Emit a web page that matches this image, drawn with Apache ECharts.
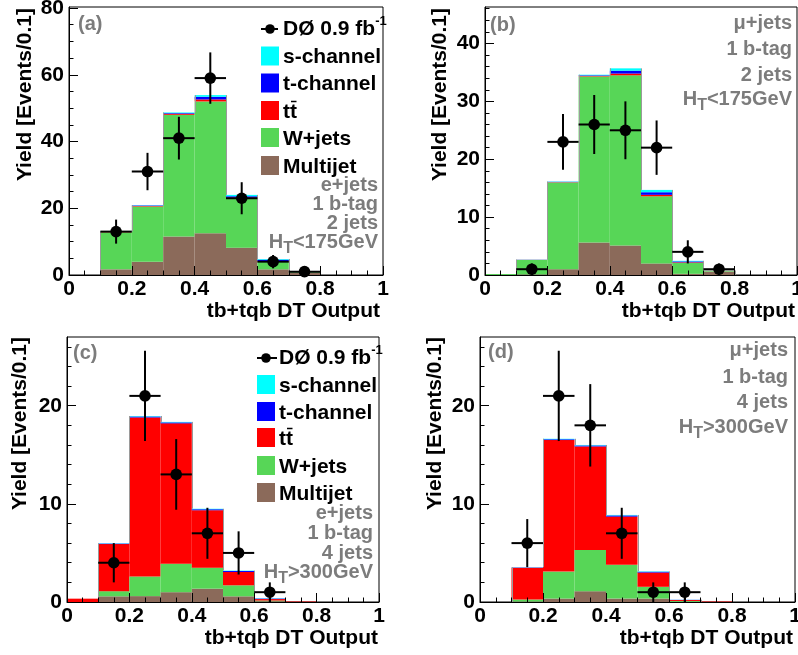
<!DOCTYPE html>
<html><head><meta charset="utf-8">
<script src="https://cdn.jsdelivr.net/npm/echarts@6/dist/echarts.min.js"></script>
<style>html,body{margin:0;padding:0;background:#fff}#c{width:798px;height:655px}</style>
</head><body><div id="c"></div>
<script>
// ---------- data ----------
const binLo = [0, 0.1, 0.2, 0.3, 0.4, 0.5, 0.6, 0.7, 0.8, 0.9];
const binHi = [0.1, 0.2, 0.3, 0.4, 0.5, 0.6, 0.7, 0.8, 0.9, 1.0];
const pointX = [0.15, 0.25, 0.35, 0.45, 0.55, 0.65, 0.75];
const xTicks = [0, 0.2, 0.4, 0.6, 0.8, 1];

// (a) e+jets, 2 jets, HT<175
const multijetA = [0, 1.7, 4.0, 11.5, 12.5, 8.2, 1.7, 0.7, 0, 0];
const wjetsA    = [0, 11.1, 16.5, 36.5, 39.5, 14.6, 2.3, 0.3, 0, 0];
const ttbarA    = [0, 0.1, 0.2, 0.3, 0.6, 0.4, 0.2, 0.05, 0, 0];
const tchanA    = [0, 0.1, 0.1, 0.2, 0.8, 0.4, 0.4, 0.05, 0, 0];
const schanA    = [0, 0.05, 0.1, 0.2, 0.5, 0.4, 0.2, 0, 0, 0];
const dataA = [13, 31, 41, 59, 23, 4, 1];
const errA  = [3.6, 5.6, 6.4, 7.7, 4.8, 2.0, 1.0];
const yTicksA = [0, 20, 40, 60, 80];
const yMinorA = [5, 10, 15, 25, 30, 35, 45, 50, 55, 65, 70, 75];

// (b) mu+jets, 2 jets, HT<175
const multijetB = [0, 0.1, 1.0, 5.6, 5.1, 2.0, 0.2, 0.6, 0, 0];
const wjetsB    = [0.15, 2.5, 15.0, 28.7, 29.4, 11.6, 1.9, 0.15, 0, 0];
const ttbarB    = [0, 0.02, 0.05, 0.1, 0.3, 0.25, 0.1, 0.02, 0, 0];
const tchanB    = [0, 0.02, 0.05, 0.1, 0.5, 0.45, 0.15, 0.02, 0, 0];
const schanB    = [0, 0.02, 0.05, 0.1, 0.4, 0.4, 0.1, 0, 0, 0];
const dataB = [1, 23, 26, 25, 22, 4, 1];
const errB  = [1.0, 4.8, 5.1, 5.0, 4.7, 2.0, 1.0];
const yTicksB = [0, 10, 20, 30, 40];
const yMinorB = [2, 4, 6, 8, 12, 14, 16, 18, 22, 24, 26, 28, 32, 34, 36, 38, 42, 44, 46];

// (c) e+jets, 4 jets, HT>300
const multijetC = [0, 0.58, 0.6, 1.0, 1.36, 0.58, 0.08, 0, 0, 0];
const wjetsC    = [0, 0.52, 2.0, 2.9, 2.14, 1.12, 0.07, 0, 0, 0];
const ttbarC    = [0.34, 4.8, 16.2, 14.3, 5.85, 1.36, 0.15, 0.05, 0, 0];
const tchanC    = [0, 0.05, 0.1, 0.1, 0.1, 0.1, 0.05, 0, 0, 0];
const schanC    = [0, 0.03, 0.05, 0.05, 0.05, 0.04, 0.03, 0, 0, 0];
const dataC = [4, 21, 13, 7, 5, 1];
const errC  = [2.0, 4.6, 3.6, 2.6, 2.2, 1.0];
const yTicksC = [0, 10, 20];
const yMinorC = [2, 4, 6, 8, 12, 14, 16, 18, 22, 24, 26];

// (d) mu+jets, 4 jets, HT>300
const multijetD = [0, 0.05, 0.35, 1.1, 0.35, 0.35, 0.02, 0, 0, 0];
const wjetsD    = [0, 0.2, 2.75, 4.2, 3.45, 1.2, 0.08, 0, 0, 0];
const ttbarD    = [0, 3.25, 13.4, 10.55, 4.9, 1.45, 0.1, 0.05, 0, 0];
const tchanD    = [0, 0.03, 0.08, 0.1, 0.12, 0.08, 0.02, 0, 0, 0];
const schanD    = [0, 0.02, 0.05, 0.05, 0.05, 0.04, 0.01, 0, 0, 0];
const dataD = [6, 21, 18, 7, 1, 1];
const errD  = [2.45, 4.6, 4.2, 2.6, 1.0, 1.0];
const yTicksD = [0, 10, 20];
const yMinorD = [2, 4, 6, 8, 12, 14, 16, 18, 22, 24, 26];

// ---------- style ----------
const FONT = "'Liberation Sans', Arial, Helvetica, sans-serif";
const C_BROWN = '#8b6a5a', C_GREEN = '#57d657', C_RED = '#ff0000', C_BLUE = '#0000ff', C_CYAN = '#00ffff';
const LAYER_COLORS = [C_BROWN, C_GREEN, C_RED, C_BLUE, C_CYAN];
const GRAY = '#7c7c7c';
const FS = 20;     // gray annotation text
const FSB = 21;    // axis labels, names, legend

const panels = [
  {grid: {left: 69, top: 7, width: 314, height: 268}, ymax: 80.3, yTicks: yTicksA, yMinor: yMinorA,
   comps: [multijetA, wjetsA, ttbarA, tchanA, schanA], data: dataA, err: errA},
  {grid: {left: 485, top: 7, width: 312, height: 268}, ymax: 46.3, yTicks: yTicksB, yMinor: yMinorB,
   comps: [multijetB, wjetsB, ttbarB, tchanB, schanB], data: dataB, err: errB},
  {grid: {left: 67, top: 337, width: 312, height: 265}, ymax: 27.0, yTicks: yTicksC, yMinor: yMinorC,
   comps: [multijetC, wjetsC, ttbarC, tchanC, schanC], data: dataC, err: errC},
  {grid: {left: 480, top: 337, width: 315, height: 265}, ymax: 27.0, yTicks: yTicksD, yMinor: yMinorD,
   comps: [multijetD, wjetsD, ttbarD, tchanD, schanD], data: dataD, err: errD}
];

function renderHist(params, api) {
  const lo = api.value(0), hi = api.value(1);
  const children = [];
  let base = 0;
  for (let i = 0; i < 5; i++) {
    const v = api.value(2 + i);
    if (!(v > 0)) continue;
    const p0 = api.coord([lo, base + v]);
    const p1 = api.coord([hi, base]);
    children.push({type: 'rect', shape: {x: p0[0], y: p0[1], width: p1[0] - p0[0], height: p1[1] - p0[1]},
      style: {fill: LAYER_COLORS[i]}});
    base += v;
  }
  const prev = api.value(7);
  if (Math.abs(prev - base) > 1e-9) {
    const a = api.coord([lo, Math.min(prev, base)]);
    const b = api.coord([lo, Math.max(prev, base)]);
    const x = Math.round(a[0]) + 0.5;
    children.push({type: 'line', shape: {x1: x, y1: a[1], x2: x, y2: b[1]}, style: {stroke: '#9a9a9a', lineWidth: 1}});
  }
  return {type: 'group', children};
}

function renderPoint(params, api) {
  const x = api.value(0), y = api.value(1), e = api.value(2);
  const c = api.coord([x, y]);
  const l = api.coord([x - 0.05, y]), r = api.coord([x + 0.05, y]);
  const t = api.coord([x, y + e]), b = api.coord([x, Math.max(0, y - e)]);
  return {type: 'group', children: [
    {type: 'line', shape: {x1: l[0], y1: c[1], x2: r[0], y2: c[1]}, style: {stroke: '#000', lineWidth: 2}},
    {type: 'line', shape: {x1: c[0], y1: t[1], x2: c[0], y2: b[1]}, style: {stroke: '#000', lineWidth: 2}},
    {type: 'circle', shape: {cx: c[0], cy: c[1], r: 5.8}, style: {fill: '#000'}}
  ]};
}

const grids = [], xAxes = [], yAxes = [], series = [];
const labelStyle = {color: '#000', fontSize: FSB, fontWeight: 'bold', fontFamily: FONT};
panels.forEach((p, i) => {
  grids.push(Object.assign({show: true, borderColor: '#000', borderWidth: 1, containLabel: false, outerBoundsMode: 'none'}, p.grid));
  xAxes.push({gridIndex: i, type: 'value', min: 0, max: 1, interval: 0.2, z: 5,
    axisLine: {show: true, onZero: false, lineStyle: {color: '#000', width: 1}},
    axisTick: {show: true, inside: true, length: 9, lineStyle: {color: '#000'}},
    minorTick: {show: true, splitNumber: 4, length: 4.5, lineStyle: {color: '#000'}},
    axisLabel: Object.assign({margin: 4, customValues: xTicks}, labelStyle),
    splitLine: {show: false}});
  yAxes.push({gridIndex: i, type: 'value', min: 0, max: p.ymax, position: 'left', z: 5,
    axisLine: {show: true, onZero: false, lineStyle: {color: '#000', width: 1}},
    axisTick: {show: true, inside: true, length: 9, customValues: p.yTicks, lineStyle: {color: '#000'}},
    axisLabel: Object.assign({margin: 5, customValues: p.yTicks}, labelStyle),
    splitLine: {show: false}});
  yAxes.push({gridIndex: i, type: 'value', min: 0, max: p.ymax, position: 'left', z: 5,
    axisLine: {show: false},
    axisTick: {show: true, inside: true, length: 4.5, customValues: p.yMinor, lineStyle: {color: '#000'}},
    axisLabel: {show: false}, splitLine: {show: false}});
  const totals = binLo.map((_, k) => p.comps.reduce((s, c) => s + c[k], 0));
  series.push({type: 'custom', name: 'hist' + i, xAxisIndex: i, yAxisIndex: 2 * i, z: 2, silent: true,
    renderItem: renderHist, encode: {x: [0, 1], y: [2]},
    data: binLo.map((lo, k) => [lo, binHi[k], p.comps[0][k], p.comps[1][k], p.comps[2][k], p.comps[3][k], p.comps[4][k], k > 0 ? totals[k - 1] : 0])});
  series.push({type: 'custom', name: 'data' + i, xAxisIndex: i, yAxisIndex: 2 * i, z: 4, silent: true,
    renderItem: renderPoint, encode: {x: 0, y: 1},
    data: p.data.map((v, k) => [pointX[k], v, p.err[k]])});
});

// ---------- texts ----------
const G = [];
function txt(x, y, text, o) {
  o = o || {};
  G.push({type: 'text', x, y, rotation: o.rot || 0, z: 100, silent: true,
    style: Object.assign({text, fill: o.fill || '#000', fontSize: o.size || FS, fontWeight: 'bold', fontFamily: FONT,
      align: o.align || 'left', verticalAlign: o.va || 'middle'}, o.extra || {})});
}
function yName(x, yTop) { txt(x, yTop, 'Yield [Events/0.1]', {rot: Math.PI / 2, align: 'right', size: FSB}); }
function xName(xRight, y) { txt(xRight, y, 'tb+tqb DT Output', {align: 'right', size: FSB}); }
function htLine(xRight, yc, str) {
  txt(xRight, yc - 10, '{m|H}{s|T}{m|' + str + '}', {fill: GRAY, align: 'right', va: 'top', extra: {rich: {
    m: {fontSize: FS, lineHeight: 20, verticalAlign: 'top', fill: GRAY, fontWeight: 'bold', fontFamily: FONT},
    s: {fontSize: 16, lineHeight: 16, padding: [9, 0, 0, 0], verticalAlign: 'top', fill: GRAY, fontWeight: 'bold', fontFamily: FONT}}}});
}
function legend(boxX, textX, dataY, rowsY, lineX0, lineX1, dotX) {
  G.push({type: 'line', z: 100, silent: true, shape: {x1: lineX0, y1: dataY, x2: lineX1, y2: dataY}, style: {stroke: '#000', lineWidth: 2}});
  G.push({type: 'circle', z: 100, silent: true, shape: {cx: dotX, cy: dataY, r: 4.8}, style: {fill: '#000'}});
  txt(textX, dataY - 14, '{m|D\u00d8 0.9 fb}{p|-1}', {va: 'top', extra: {rich: {
    m: {fontSize: FSB, lineHeight: 21, padding: [4, 0, 0, 0], verticalAlign: 'top', fontWeight: 'bold', fontFamily: FONT, fill: '#000'},
    p: {fontSize: 13, lineHeight: 13, verticalAlign: 'top', fontWeight: 'bold', fontFamily: FONT, fill: '#000'}}}});
  const names = ['s-channel', 't-channel', 'tt', 'W+jets', 'Multijet'];
  const cols = [C_CYAN, C_BLUE, C_RED, C_GREEN, C_BROWN];
  names.forEach((n, k) => {
    G.push({type: 'rect', z: 100, silent: true, shape: {x: boxX, y: rowsY[k] - 10, width: 18, height: 19}, style: {fill: cols[k]}});
    txt(textX, rowsY[k] + 1, n, {size: FSB});
    if (n === 'tt') {
      G.push({type: 'line', z: 100, silent: true, shape: {x1: textX + 8, y1: rowsY[k] - 9.5, x2: textX + 13.5, y2: rowsY[k] - 9.5}, style: {stroke: '#000', lineWidth: 1.5}});
    }
  });
}

// panel (a)
txt(78, 24, '(a)', {fill: GRAY});
legend(261, 283, 29, [56.5, 83.5, 111, 138, 166], 261, 278, 270);
txt(378, 185, 'e+jets', {fill: GRAY, align: 'right'});
txt(378, 204, '1 b-tag', {fill: GRAY, align: 'right'});
txt(378, 223, '2 jets', {fill: GRAY, align: 'right'});
htLine(378, 242, '<175GeV');
yName(25, 8); xName(380, 311);

// panel (b)
txt(490, 25, '(b)', {fill: GRAY});
txt(792, 23, '\u03bc+jets', {fill: GRAY, align: 'right'});
txt(792, 49, '1 b-tag', {fill: GRAY, align: 'right'});
txt(792, 75, '2 jets', {fill: GRAY, align: 'right'});
htLine(792, 99, '<175GeV');
yName(440, 8); xName(795, 311);

// panel (c)
txt(73, 353, '(c)', {fill: GRAY});
legend(257, 279, 358, [385, 412, 438, 466, 493], 257, 277, 266);
txt(373, 513, 'e+jets', {fill: GRAY, align: 'right'});
txt(373, 533, '1 b-tag', {fill: GRAY, align: 'right'});
txt(373, 553, '4 jets', {fill: GRAY, align: 'right'});
htLine(373, 572, '>300GeV');
yName(20, 337); xName(378, 638);

// panel (d)
txt(488, 352, '(d)', {fill: GRAY});
txt(788, 350, '\u03bc+jets', {fill: GRAY, align: 'right'});
txt(788, 377, '1 b-tag', {fill: GRAY, align: 'right'});
txt(788, 402, '4 jets', {fill: GRAY, align: 'right'});
htLine(788, 427, '>300GeV');
yName(435, 337); xName(793, 638);

const chart = echarts.init(document.getElementById('c'), null, {renderer: 'canvas'});
chart.setOption({
  animation: false,
  backgroundColor: '#fff',
  grid: grids, xAxis: xAxes, yAxis: yAxes, series: series, graphic: G
});
</script></body></html>
